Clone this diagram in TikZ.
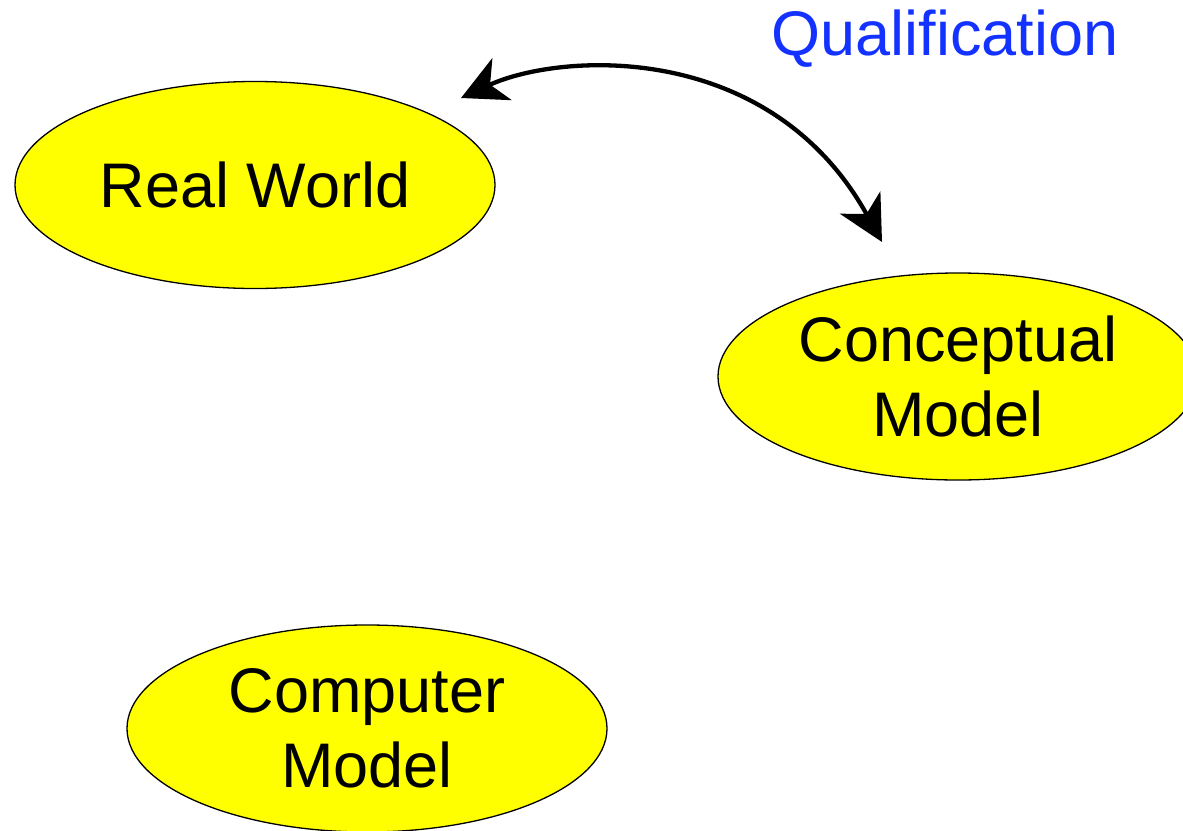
\documentclass[tikz,border=0pt]{standalone}
\usepackage{fontspec}
\setmainfont{Liberation Sans}
\usetikzlibrary{shapes.geometric,arrows.meta}
\definecolor{ellfill}{RGB}{255,255,0}
\definecolor{qualblue}{RGB}{20,50,255}
\tikzset{
  blob/.style={ellipse, draw=black, line width=1.3pt, fill=ellfill,
    minimum width=480pt, minimum height=207pt, inner sep=0pt,
    align=center, font=\fontsize{63}{75}\selectfont},
  qarrow/.style={line width=4.3pt,
    {Stealth[length=45pt,width=46pt,inset=13pt]}-{Stealth[length=45pt,width=46pt,inset=13pt]}},
  lbl/.style={font=\fontsize{63}{75}\selectfont, text=qualblue, inner sep=0pt}
}
\begin{document}
\begin{tikzpicture}[x=1pt,y=-1pt]
\useasboundingbox (0,0) rectangle (1183,830);
\node[blob] (rw) at (255,185) {Real World};
\node[blob] (cm) at (958,376.5) {Conceptual\\Model};
\node[blob] (pm) at (367,728.5) {Computer\\Model};
\node[lbl, anchor=base] (q) at (945,55) {Qualification};
\coordinate (qa) at (461,98);
\coordinate (qb) at (882,242);
\draw[qarrow] (qa) .. controls (561,52) and (770,40) .. (qb);
\end{tikzpicture}
\end{document}
